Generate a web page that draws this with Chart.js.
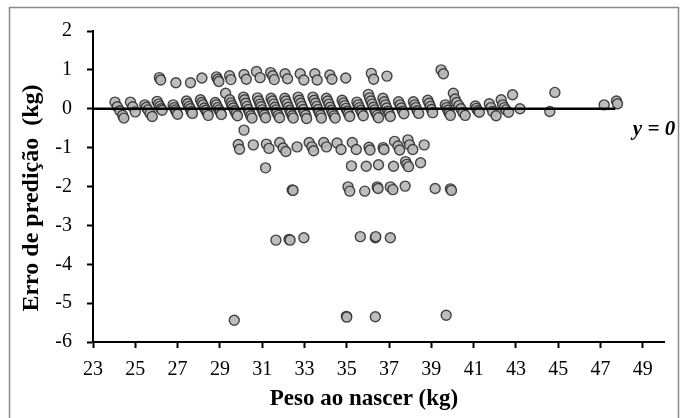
<!DOCTYPE html>
<html>
<head>
<meta charset="utf-8">
<title>Erro de predição x Peso ao nascer</title>
<script src="https://cdn.jsdelivr.net/npm/chart.js@4.4.1/dist/chart.umd.min.js"></script>
<style>
  body { margin: 0; background: #fff; }
  #wrap { width: 684px; height: 418px; }
</style>
</head>
<body>
<div id="wrap"><canvas id="grafico" width="684" height="418"></canvas></div>

<script>
// eixos
const ticksX = [23, 25, 27, 29, 31, 33, 35, 37, 39, 41, 43, 45, 47, 49];
const ticksY = [-6, -5, -4, -3, -2, -1, 0, 1, 2];
const linhaZeroX = [23, 47.7];
const linhaZeroY = [0, 0];

// pontos: [peso ao nascer, erro]
const pontosFaixaZero = [
  [24.04,0.17],[24.15,0.05],[24.27,-0.05],[24.4,-0.17],[24.46,-0.24],
  [24.77,0.17],[24.88,0.05],[25.0,-0.08],
  [25.45,0.1],[25.52,0.04],[25.6,-0.03],[25.7,-0.12],[25.8,-0.2],
  [26.03,0.19],[26.1,0.12],[26.16,0.06],[26.22,0.0],[26.27,-0.04],
  [26.79,0.1],[26.85,0.03],[26.9,-0.03],[26.94,-0.08],[27.0,-0.14],
  [27.42,0.2],[27.48,0.13],[27.54,0.06],[27.6,0.0],[27.65,-0.07],[27.7,-0.12],
  [28.08,0.23],[28.14,0.16],[28.2,0.1],[28.27,0.02],[28.33,-0.04],[28.4,-0.1],[28.45,-0.17],
  [28.78,0.16],[28.83,0.1],[28.9,0.03],[28.96,-0.03],[29.02,-0.09],[29.07,-0.15],
  [29.27,0.4],
  [29.46,0.23],[29.52,0.15],[29.58,0.08],[29.64,0.02],[29.7,-0.05],[29.77,-0.12],[29.83,-0.18],
  [30.12,0.3],[30.17,0.23],[30.22,0.14],[30.28,0.06],[30.34,-0.02],[30.4,-0.1],[30.46,-0.18],[30.52,-0.24],
  [30.78,0.28],[30.84,0.2],[30.9,0.12],[30.95,0.05],[31.0,-0.03],[31.06,-0.1],[31.11,-0.16],[31.16,-0.23],
  [31.42,0.27],[31.48,0.2],[31.54,0.12],[31.6,0.04],[31.65,-0.03],[31.7,-0.1],[31.76,-0.17],[31.82,-0.23],
  [32.07,0.27],[32.12,0.2],[32.18,0.12],[32.24,0.04],[32.3,-0.04],[32.36,-0.11],[32.42,-0.18],[32.47,-0.24],
  [32.7,0.3],[32.76,0.22],[32.82,0.14],[32.88,0.06],[32.94,-0.02],[33.0,-0.1],[33.06,-0.17],[33.1,-0.25],
  [33.4,0.3],[33.46,0.22],[33.52,0.14],[33.58,0.06],[33.64,-0.02],[33.7,-0.1],[33.76,-0.17],[33.8,-0.24],
  [34.04,0.27],[34.1,0.2],[34.16,0.12],[34.22,0.04],[34.28,-0.04],[34.34,-0.11],[34.4,-0.18],[34.45,-0.24],
  [34.78,0.22],[34.84,0.15],[34.9,0.08],[34.96,0.01],[35.02,-0.06],[35.08,-0.13],[35.14,-0.2],
  [35.48,0.17],[35.54,0.1],[35.6,0.03],[35.66,-0.04],[35.72,-0.11],[35.78,-0.18],
  [36.02,0.37],[36.08,0.28],[36.14,0.2],[36.2,0.12],[36.26,0.04],[36.32,-0.03],[36.38,-0.1],[36.44,-0.17],[36.5,-0.23],
  [36.71,0.27],[36.77,0.18],[36.83,0.1],[36.89,0.02],[36.95,-0.06],[37.0,-0.13],[37.06,-0.2],
  [37.45,0.18],[37.52,0.1],[37.58,0.02],[37.64,-0.06],[37.7,-0.13],
  [38.15,0.18],[38.21,0.1],[38.27,0.03],[38.33,-0.05],[38.4,-0.12],
  [38.83,0.22],[38.89,0.14],[38.95,0.06],[39.0,-0.02],[39.06,-0.1],
  [39.66,0.1],[39.72,0.03],[39.78,-0.04],[39.84,-0.11],[39.9,-0.17],
  [40.04,0.4],[40.12,0.25],[40.2,0.16],[40.3,0.08],[40.4,0.0],[40.5,-0.1],[40.6,-0.17],
  [41.08,0.07],[41.13,0.01],[41.2,-0.05],[41.27,-0.09],
  [41.74,0.13],[41.82,0.03],[41.9,-0.07],[42.06,-0.18],
  [42.3,0.23],[42.37,0.1],[42.45,0.03],[42.53,-0.03],[42.65,-0.09],
  [42.84,0.36],[43.19,0.0],
  [44.6,-0.07],[44.84,0.42],
  [47.17,0.1],[47.75,0.2],[47.8,0.13]
];

const pontosAcima = [
  [26.14,0.8],[26.2,0.74],[26.92,0.67],[27.61,0.67],[28.15,0.79],
  [28.84,0.82],[28.9,0.76],[28.95,0.7],[29.46,0.85],[29.52,0.75],
  [30.14,0.88],[30.25,0.76],[30.73,0.96],[30.9,0.8],[31.4,0.93],
  [31.5,0.85],[31.57,0.75],[32.08,0.9],[32.2,0.77],[32.8,0.9],
  [32.97,0.74],[33.49,0.9],[33.6,0.74],[34.2,0.87],[34.3,0.76],
  [34.95,0.79],[36.16,0.91],[36.27,0.76],[36.9,0.84],[39.46,1.0],[39.57,0.9]
];

const pontosMenos1 = [
  [30.14,-0.55],
  [29.87,-0.92],[29.93,-1.04],[30.58,-0.93],[31.2,-0.91],[31.32,-1.02],
  [31.83,-0.87],[31.99,-1.01],[32.12,-1.1],[32.65,-0.98],[33.22,-0.87],
  [33.35,-0.98],[33.43,-1.08],[33.91,-0.87],[34.04,-0.98],[34.54,-0.88],
  [34.73,-1.05],[35.26,-0.87],[35.45,-1.05],[36.05,-0.99],[36.1,-1.06],
  [36.72,-1.0],[36.76,-1.05],[37.26,-0.84],[37.42,-0.96],[37.5,-1.06],
  [37.89,-0.8],[37.97,-0.93],[38.12,-1.05],[38.66,-0.93]
];

const pontosMenos15 = [
  [31.16,-1.52],[35.22,-1.47],[35.92,-1.48],[36.5,-1.44],[37.21,-1.48],
  [37.78,-1.36],[37.84,-1.43],[37.92,-1.49],[38.49,-1.39]
];

const pontosMenos2 = [
  [32.42,-2.09],[32.46,-2.1],[35.06,-2.01],[35.14,-2.12],[35.85,-2.12],
  [36.44,-2.01],[36.48,-2.05],[37.06,-2.01],[37.18,-2.08],[37.76,-1.99],
  [39.18,-2.05],[39.9,-2.06],[39.95,-2.1]
];

const pontosMenos33 = [
  [31.65,-3.38],[32.27,-3.36],[32.32,-3.38],[32.97,-3.32],
  [35.64,-3.29],[36.35,-3.32],[36.37,-3.29],[37.06,-3.32]
];

const pontosMenos54 = [
  [29.68,-5.44],[34.98,-5.34],[35.0,-5.36],[36.35,-5.35],[39.7,-5.31]
];

const todosPontos = pontosFaixaZero.concat(pontosAcima, pontosMenos1, pontosMenos15,
  pontosMenos2, pontosMenos33, pontosMenos54).map(p => ({ x: p[0], y: p[1] }));

const linhaZero = linhaZeroX.map((x, i) => ({ x: x, y: linhaZeroY[i] }));

const fonteEixo = { family: '"Liberation Serif", "Times New Roman", serif', size: 20 };

// moldura, titulos dos eixos e legenda "y = 0"
const textos = {
  id: 'textos',
  afterDraw(chart) {
    const ctx = chart.ctx;
    ctx.save();
    ctx.strokeStyle = '#8a8a8a';
    ctx.lineWidth = 1.5;
    ctx.beginPath();
    ctx.moveTo(9.5, 418);
    ctx.lineTo(9.5, 7.5);
    ctx.lineTo(678.5, 7.5);
    ctx.lineTo(678.5, 418);
    ctx.stroke();

    ctx.fillStyle = '#000';
    ctx.textAlign = 'center';
    ctx.textBaseline = 'middle';
    ctx.font = 'bold 23px "Liberation Serif", serif';
    ctx.fillText('Peso ao nascer (kg)', 364, 399);

    ctx.font = 'italic bold 21px "Liberation Serif", serif';
    ctx.fillText('y = 0', 654, 130);

    ctx.translate(32, 198);
    ctx.rotate(-Math.PI / 2);
    ctx.font = 'bold 24px "Liberation Serif", serif';
    ctx.fillText('Erro de predição  (kg)', 0, 0);
    ctx.restore();
  }
};

new Chart(document.getElementById('grafico'), {
  type: 'scatter',
  data: {
    datasets: [
      {
        type: 'line',
        data: linhaZero,
        borderColor: '#000',
        borderWidth: 2.5,
        pointRadius: 0,
        fill: false,
        order: 0
      },
      {
        data: todosPontos,
        backgroundColor: 'rgba(185,185,185,0.92)',
        borderColor: 'rgba(40,40,40,0.85)',
        borderWidth: 1.4,
        pointRadius: 5,
        order: 1
      }
    ]
  },
  options: {
    responsive: false,
    animation: false,
    devicePixelRatio: 1,
    layout: { padding: { left: 0, right: 20, top: 31, bottom: 0 } },
    plugins: {
      legend: { display: false },
      tooltip: { enabled: false }
    },
    scales: {
      x: {
        type: 'linear',
        min: 23,
        max: 50,
        afterBuildTicks: scale => { scale.ticks = ticksX.map(v => ({ value: v })); },
        afterFit: scale => { scale.height = 76; },
        ticks: { autoSkip: false, maxRotation: 0, color: '#000', font: fonteEixo, padding: 10 },
        grid: { drawOnChartArea: false, drawTicks: true, tickLength: 6, tickWidth: 2, color: '#000' },
        border: { color: '#000', width: 2 }
      },
      y: {
        type: 'linear',
        min: -6,
        max: 2,
        afterBuildTicks: scale => { scale.ticks = ticksY.map(v => ({ value: v })); },
        afterFit: scale => { scale.width = 93; },
        ticks: { color: '#000', font: fonteEixo, padding: 15 },
        grid: { drawOnChartArea: false, drawTicks: true, tickLength: 6, tickWidth: 2, color: '#000' },
        border: { color: '#000', width: 2 }
      }
    }
  },
  plugins: [textos]
});
</script>
</body>
</html>
